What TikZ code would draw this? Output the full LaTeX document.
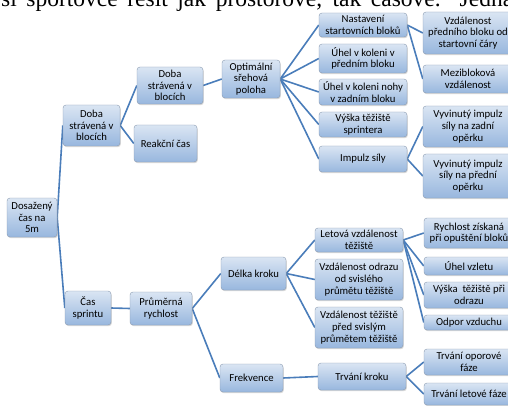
\documentclass[tikz,border=0pt]{standalone}
\usepackage{fontspec}
\setmainfont{Carlito}
\newfontfamily\headfont{Liberation Serif}
\usetikzlibrary{shadows,backgrounds}
\definecolor{boxtop}{HTML}{DAE5F3}
\definecolor{boxbot}{HTML}{98B7DE}
\definecolor{boxline}{HTML}{8A9AB0}
\definecolor{linkblue}{HTML}{4A7DBA}

\begin{document}
\begin{tikzpicture}[x=1pt, y=-1pt,
   box/.style={draw=boxline, rounded corners=3pt, top color=boxtop, bottom color=boxbot,
     align=center, inner sep=1pt, font=\fontsize{10.7}{11.7}\selectfont,
     drop shadow={shadow xshift=0.8pt, shadow yshift=-1.2pt, opacity=0.3}},
   conn/.style={draw=linkblue, line width=1.6pt}]
   \useasboundingbox (0,0) rectangle (508,406);
   \clip (0,0) rectangle (508,406);
   \node[anchor=base west, inner sep=0pt, font=\headfont\fontsize{23.5}{28}\selectfont] (veta) at (1,6.5)
     {\makebox[512pt][s]{si sportovce řešit jak prostorově, tak časově. Jedna}};
   \node[box, minimum width=50pt, minimum height=39pt] (cas5m) at (32,217.5) {Dosažený\\čas na\\5m};
   \node[box, minimum width=57pt, minimum height=41pt] (blok1) at (91.5,125.5) {Doba\\strávená v\\blocích};
   \node[box, minimum width=46pt, minimum height=34pt] (sprint) at (88,308) {Čas\\sprintu};
   \node[box, minimum width=66pt, minimum height=37pt] (blok2) at (170,85.5) {Doba\\strávená v\\blocích};
   \node[box, minimum width=63pt, minimum height=37pt] (reakce) at (165.5,143.5) {Reakční čas};
   \node[box, minimum width=62pt, minimum height=33pt] (rychlost) at (161,308.5) {Průměrná\\rychlost};
   \node[box, minimum width=58pt, minimum height=38pt] (poloha) at (251,79) {Optimální\\sřehová\\poloha};
   \node[box, minimum width=65pt, minimum height=33pt] (delka) at (253.5,273.5) {Délka kroku};
   \node[box, minimum width=63pt, minimum height=28pt] (frekvence) at (251.5,378) {Frekvence};
   \node[box, minimum width=88pt, minimum height=24pt] (nastaveni) at (363,25) {Nastavení\\startovních bloků};
   \node[box, minimum width=88pt, minimum height=29pt] (uhel1) at (363,58.5) {Úhel v koleni v\\předním bloku};
   \node[box, minimum width=88pt, minimum height=26pt] (uhel2) at (363,92) {Úhel v koleni nohy\\v zadním bloku};
   \node[box, minimum width=88pt, minimum height=25pt] (vyska) at (363,124.5) {Výška těžiště\\sprintera};
   \node[box, minimum width=88pt, minimum height=26pt] (impulz) at (363,159) {Impulz síly};
   \node[box, minimum width=88pt, minimum height=24pt] (letova) at (359,240) {Letová vzdálenost\\těžiště};
   \node[box, minimum width=88pt, minimum height=41pt] (odraz) at (359,279.5) {Vzdálenost odrazu\\od svislého\\průmětu těžiště};
   \node[box, minimum width=88pt, minimum height=41pt] (pred) at (359,327.5) {Vzdálenost těžiště\\před svislým\\průmětem těžiště};
   \node[box, minimum width=88pt, minimum height=27pt] (krok) at (362,376.5) {Trvání kroku};
   \node[box, minimum width=90pt, minimum height=42pt] (vzdal) at (468,33) {Vzdálenost\\předního bloku od\\startovní čáry};
   \node[box, minimum width=90pt, minimum height=28pt] (mezi) at (468,79) {Mezibloková\\vzdálenost};
   \node[box, minimum width=90pt, minimum height=41pt] (vyv1) at (468,126.5) {Vyvinutý impulz\\síly na zadní\\opěrku};
   \node[box, minimum width=90pt, minimum height=44pt] (vyv2) at (468,176) {Vyvinutý impulz\\síly na přední\\opěrku};
   \node[box, minimum width=90pt, minimum height=30pt] (rychz) at (469,233) {Rychlost získaná\\při opuštění bloků};
   \node[box, minimum width=90pt, minimum height=18pt] (vzlet) at (469,266) {Úhel vzletu};
   \node[box, minimum width=90pt, minimum height=26pt] (vyska2) at (469,295) {Výška~ těžiště při\\odrazu};
   \node[box, minimum width=90pt, minimum height=15pt] (odpor) at (469,322.5) {Odpor vzduchu};
   \node[box, minimum width=90pt, minimum height=26pt] (oporova) at (469,362) {Trvání oporové\\fáze};
   \node[box, minimum width=90pt, minimum height=22pt] (letfaze) at (469,394) {Trvání letové fáze};
   \begin{pgfonlayer}{background}
     \foreach \a/\b in {cas5m/blok1, cas5m/sprint, blok1/blok2, blok1/reakce, sprint/rychlost,
        blok2/poloha, rychlost/delka, rychlost/frekvence, poloha/nastaveni, poloha/uhel1,
        poloha/uhel2, poloha/vyska, poloha/impulz, nastaveni/vzdal, nastaveni/mezi,
        impulz/vyv1, impulz/vyv2, delka/letova, delka/odraz, delka/pred, frekvence/krok,
        letova/rychz, letova/vzlet, letova/vyska2, letova/odpor, krok/oporova, krok/letfaze}
       \draw[conn] (\a.east) -- (\b.west);
   \end{pgfonlayer}
\end{tikzpicture}
\end{document}
